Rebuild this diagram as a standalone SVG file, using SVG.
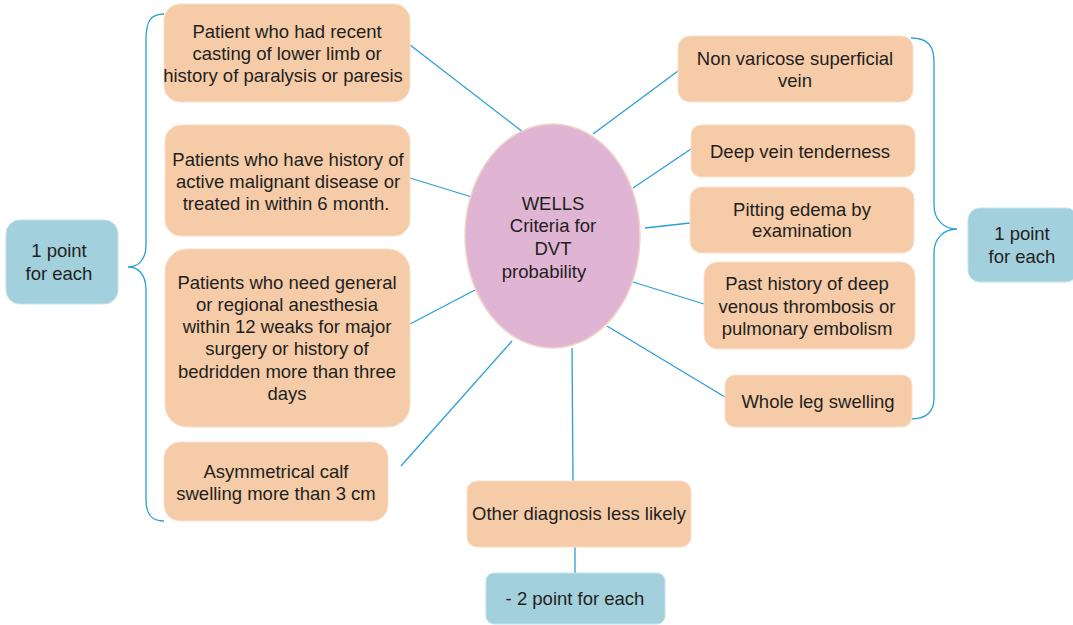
<svg xmlns="http://www.w3.org/2000/svg" width="1073" height="625" viewBox="0 0 1073 625">
<style>
.box{fill:#f5cba8;stroke:#fbe0cc;stroke-width:1}
.pt{fill:#a2d0dc;stroke:#c4e2ea;stroke-width:1}
.ell{fill:#dfb5d3;stroke:#f0d4c8;stroke-width:1.5}
.t{font-family:"Liberation Sans",Arial,sans-serif;font-size:18.5px;fill:#231f20;text-anchor:middle;dominant-baseline:central}
.c{stroke:#2a9fd6;stroke-width:1.3;fill:none}
</style>
<rect width="1073" height="625" fill="#ffffff"/>
<g id="connectors">
<line class="c" x1="410" y1="45" x2="523" y2="132"/>
<line class="c" x1="410" y1="178" x2="475" y2="198"/>
<line class="c" x1="410" y1="324" x2="475" y2="290"/>
<line class="c" x1="401" y1="466" x2="512" y2="341"/>
<line class="c" x1="572" y1="348" x2="573" y2="481"/>
<line class="c" x1="575" y1="547" x2="575" y2="573"/>
<line class="c" x1="593" y1="134" x2="678" y2="71"/>
<line class="c" x1="633" y1="188" x2="691" y2="149"/>
<line class="c" x1="645" y1="228" x2="690" y2="223"/>
<line class="c" x1="633" y1="282" x2="704" y2="304"/>
<line class="c" x1="607" y1="326" x2="725" y2="397"/>
<path class="c" d="M164,14 C150,14 146,22 146,40 L146,245 C146,260 138,267 128,267 C138,267 146,274 146,290 L146,500 C146,515 152,521 164,521"/>
<path class="c" d="M911,38 C928,38 934,46 934,62 L934,205 C934,220 944,229 957,229 C944,229 934,238 934,253 L934,398 C934,413 926,419 911,419"/>
</g>
<g id="center">
<ellipse class="ell" cx="552.5" cy="236" rx="87.5" ry="112"/>
<text class="t" x="553" y="203">WELLS</text>
<text class="t" x="553" y="225">Criteria for</text>
<text class="t" x="553" y="248">DVT</text>
<text class="t" x="544" y="271">probability</text>
</g>
<g id="n-casting">
<rect class="box" x="164" y="4" width="246" height="98" rx="16"/>
<text class="t" x="287" y="31">Patient who had recent</text>
<text class="t" x="287" y="53">casting of lower limb or</text>
<text class="t" x="283" y="75">history of paralysis or paresis</text>
</g>
<g id="n-malignant">
<rect class="box" x="165" y="125" width="245" height="111" rx="16"/>
<text class="t" x="288" y="159">Patients who have history of</text>
<text class="t" x="288" y="181">active malignant disease or</text>
<text class="t" x="286" y="203">treated in within 6 month.</text>
</g>
<g id="n-anesthesia">
<rect class="box" x="165" y="249" width="245" height="178" rx="22"/>
<text class="t" x="287" y="282">Patients who need general</text>
<text class="t" x="287" y="304">or regional anesthesia</text>
<text class="t" x="287" y="326">within 12 weaks for major</text>
<text class="t" x="287" y="348">surgery or history of</text>
<text class="t" x="287" y="371">bedridden more than three</text>
<text class="t" x="287" y="393">days</text>
</g>
<g id="n-calf">
<rect class="box" x="164" y="442" width="224" height="79" rx="16"/>
<text class="t" x="276" y="471">Asymmetrical calf</text>
<text class="t" x="276" y="493">swelling more than 3 cm</text>
</g>
<g id="left-points">
<rect class="pt" x="6" y="220" width="112" height="84" rx="14"/>
<text class="t" x="59" y="250">1 point</text>
<text class="t" x="59" y="273">for each</text>
</g>
<g id="n-superficial">
<rect class="box" x="678" y="36" width="235" height="66" rx="12"/>
<text class="t" x="795" y="58">Non varicose superficial</text>
<text class="t" x="795" y="80">vein</text>
</g>
<g id="n-tenderness">
<rect class="box" x="691" y="125" width="224" height="52" rx="10"/>
<text class="t" x="800" y="151">Deep vein tenderness</text>
</g>
<g id="n-edema">
<rect class="box" x="690" y="187" width="224" height="66" rx="12"/>
<text class="t" x="802" y="209">Pitting edema by</text>
<text class="t" x="802" y="230">examination</text>
</g>
<g id="n-history">
<rect class="box" x="704" y="262" width="211" height="87" rx="14"/>
<text class="t" x="807" y="283">Past history of deep</text>
<text class="t" x="807" y="306">venous thrombosis or</text>
<text class="t" x="807" y="328">pulmonary embolism</text>
</g>
<g id="n-swelling">
<rect class="box" x="725" y="375" width="187" height="52" rx="10"/>
<text class="t" x="818" y="401">Whole leg swelling</text>
</g>
<g id="right-points">
<rect class="pt" x="968" y="208" width="110" height="74" rx="12"/>
<text class="t" x="1022" y="233">1 point</text>
<text class="t" x="1022" y="256">for each</text>
</g>
<g id="n-other">
<rect class="box" x="467" y="481" width="224" height="66" rx="10"/>
<text class="t" x="579" y="513">Other diagnosis less likely</text>
</g>
<g id="minus-points">
<rect class="pt" x="486" y="573" width="179" height="51" rx="8"/>
<text class="t" x="575" y="598">- 2 point for each</text>
</g>
</svg>
